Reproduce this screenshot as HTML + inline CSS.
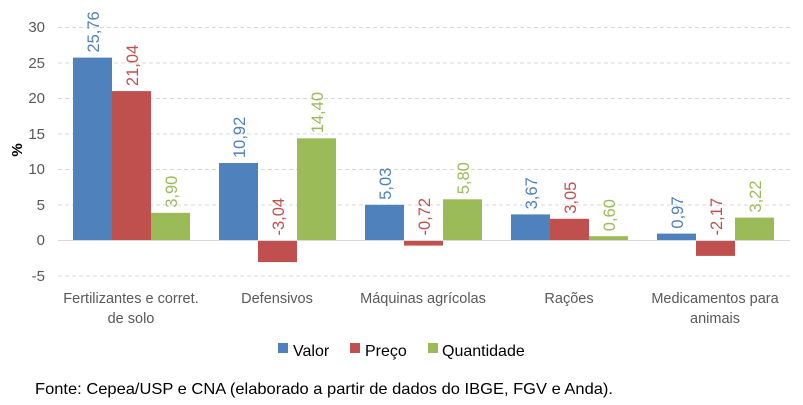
<!DOCTYPE html>
<html><head><meta charset="utf-8"><style>
body{margin:0;background:#fff}
svg{display:block;font-family:"Liberation Sans",sans-serif}
</style></head><body>
<svg width="803" height="405" viewBox="0 0 803 405">
<g stroke="#d9d9d9" stroke-dasharray="4,3" stroke-width="1">
<line x1="58" x2="790" y1="27.5" y2="27.5"/>
<line x1="58" x2="790" y1="63" y2="63"/>
<line x1="58" x2="790" y1="98.5" y2="98.5"/>
<line x1="58" x2="790" y1="134" y2="134"/>
<line x1="58" x2="790" y1="169.5" y2="169.5"/>
<line x1="58" x2="790" y1="205" y2="205"/>
<line x1="58" x2="790" y1="276" y2="276"/>
</g>
<g font-size="15" fill="#595959" text-anchor="end">
<text x="45" y="32">30</text><text x="45" y="68">25</text><text x="45" y="103">20</text>
<text x="45" y="139">15</text><text x="45" y="174">10</text><text x="45" y="210">5</text>
<text x="45" y="245">0</text><text x="45" y="281">-5</text>
</g>
<text transform="translate(22,150) rotate(-90)" font-size="15" font-weight="bold" text-anchor="middle" fill="#000">%</text>
<g>
<rect x="73" y="57.6" width="39" height="182.9" fill="#4f81bd"/>
<rect x="112" y="91.1" width="39" height="149.4" fill="#c0504d"/>
<rect x="151" y="212.8" width="39" height="27.7" fill="#9bbb59"/>
<rect x="219" y="163" width="39" height="77.5" fill="#4f81bd"/>
<rect x="258" y="240.5" width="39" height="21.6" fill="#c0504d"/>
<rect x="297" y="138.3" width="39" height="102.2" fill="#9bbb59"/>
<rect x="365" y="204.8" width="39" height="35.7" fill="#4f81bd"/>
<rect x="404" y="240.5" width="39" height="5.1" fill="#c0504d"/>
<rect x="443" y="199.3" width="39" height="41.2" fill="#9bbb59"/>
<rect x="511" y="214.4" width="39" height="26.1" fill="#4f81bd"/>
<rect x="550" y="218.8" width="39" height="21.7" fill="#c0504d"/>
<rect x="589" y="236.2" width="39" height="4.3" fill="#9bbb59"/>
<rect x="657" y="233.6" width="39" height="6.9" fill="#4f81bd"/>
<rect x="696" y="240.5" width="39" height="15.4" fill="#c0504d"/>
<rect x="735" y="217.6" width="39" height="22.9" fill="#9bbb59"/>
</g>
<g font-size="16.5">
<text transform="translate(99,52.6) rotate(-90)" fill="#4f81bd">25,76</text>
<text transform="translate(138,86.1) rotate(-90)" fill="#c0504d">21,04</text>
<text transform="translate(177,207.8) rotate(-90)" fill="#9bbb59">3,90</text>
<text transform="translate(245,158) rotate(-90)" fill="#4f81bd">10,92</text>
<text transform="translate(284,235.5) rotate(-90)" fill="#c0504d">-3,04</text>
<text transform="translate(323,133.3) rotate(-90)" fill="#9bbb59">14,40</text>
<text transform="translate(391,199.8) rotate(-90)" fill="#4f81bd">5,03</text>
<text transform="translate(430,235.5) rotate(-90)" fill="#c0504d">-0,72</text>
<text transform="translate(469,194.3) rotate(-90)" fill="#9bbb59">5,80</text>
<text transform="translate(537,209.4) rotate(-90)" fill="#4f81bd">3,67</text>
<text transform="translate(576,213.8) rotate(-90)" fill="#c0504d">3,05</text>
<text transform="translate(615,231.2) rotate(-90)" fill="#9bbb59">0,60</text>
<text transform="translate(683,228.6) rotate(-90)" fill="#4f81bd">0,97</text>
<text transform="translate(722,235.5) rotate(-90)" fill="#c0504d">-2,17</text>
<text transform="translate(761,212.6) rotate(-90)" fill="#9bbb59">3,22</text>
</g>
<line x1="58" x2="790" y1="240.5" y2="240.5" stroke="#d9d9d9"/>
<g font-size="14.5" fill="#595959" text-anchor="middle">
<text x="131" y="303">Fertilizantes e corret.</text><text x="131" y="323">de solo</text>
<text x="277" y="303">Defensivos</text>
<text x="423" y="303">Máquinas agrícolas</text>
<text x="569" y="303">Rações</text>
<text x="715" y="303">Medicamentos para</text><text x="715" y="323">animais</text>
</g>
<g font-size="16" fill="#000">
<rect x="278" y="343" width="10" height="10" fill="#4f81bd"/><text x="293" y="356">Valor</text>
<rect x="350" y="343" width="10" height="10" fill="#c0504d"/><text x="365" y="356">Preço</text>
<rect x="428" y="343" width="10" height="10" fill="#9bbb59"/><text x="442" y="356">Quantidade</text>
<text x="35" y="394" textLength="578" lengthAdjust="spacingAndGlyphs">Fonte: Cepea/USP e CNA (elaborado a partir de dados do IBGE, FGV e Anda).</text>
</g>
</svg>
</body></html>
